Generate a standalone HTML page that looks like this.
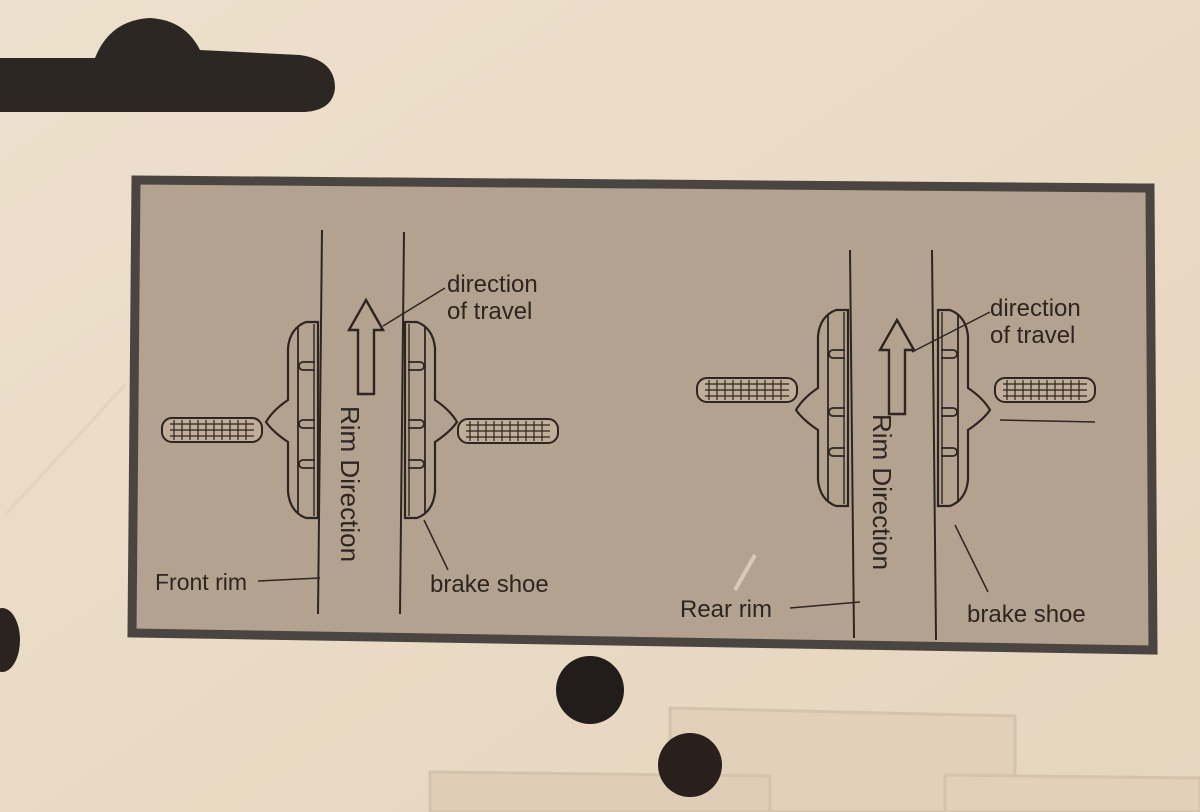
<!DOCTYPE html>
<html><head><style>
body{margin:0;width:1200px;height:812px;overflow:hidden;background:#eadcc7;}
svg{display:block}
text{font-family:"Liberation Sans",sans-serif;fill:#2e2520;}
</style></head><body>
<svg width="1200" height="812" viewBox="0 0 1200 812">
<defs>
<linearGradient id="bg" x1="0" y1="0" x2="1" y2="1">
<stop offset="0" stop-color="#ede0cc"/><stop offset="1" stop-color="#e6d5bf"/>
</linearGradient>
<g id="shoeL">
<path d="M0,0 L0,196 L-12,196 Q-28,190 -30,170 L-30,120 Q-45,110 -52,100 Q-45,88 -30,78 L-30,26 Q-28,6 -12,0 Z" fill="none" stroke="#2e2520" stroke-width="2.2"/>
<line x1="-20" y1="4" x2="-20" y2="192" stroke="#2e2520" stroke-width="1.8"/>
<path d="M-3,40 h-12 a4,4 0 0 0 0,8 h12 M-3,98 h-12 a4,4 0 0 0 0,8 h12 M-3,138 h-12 a4,4 0 0 0 0,8 h12" fill="none" stroke="#2e2520" stroke-width="1.8"/>
<line x1="-4" y1="2" x2="-4" y2="194" stroke="#2e2520" stroke-width="1.4"/>
</g>
<g id="bolt">
<rect x="0" y="0" width="100" height="24" rx="10" fill="#c0ae9a" stroke="#2e2520" stroke-width="2"/>
<path d="M8,6 h84 M8,12 h84 M8,18 h84" stroke="#2e2520" stroke-width="1.2"/>
<path d="M12,2v20M20,2v20M28,2v20M36,2v20M44,2v20M52,2v20M60,2v20M68,2v20M76,2v20M84,2v20" stroke="#2e2520" stroke-width="1.2"/>
</g>
<g id="arrow">
<path d="M0,0 L17,30 L8,30 L8,94 L-8,94 L-8,30 L-17,30 Z" fill="none" stroke="#2e2520" stroke-width="2.4"/>
</g>
</defs>
<rect width="1200" height="812" fill="url(#bg)"/>
<path d="M0,58 L95,58 Q110,20 150,18 Q185,20 200,50 L300,55 Q335,60 335,88 Q333,110 305,112 L0,112 Z" fill="#2d2723"/>
<!-- lower faint boxes -->
<path d="M670,708 L1015,716 L1015,812 L670,812 Z" fill="#e2d0bb" stroke="#d5c3ad" stroke-width="3"/>
<path d="M430,772 L770,776 L770,812 L430,812 Z" fill="#e0cdb7" stroke="#d5c3ad" stroke-width="3"/>
<path d="M945,775 L1200,778 L1200,812 L945,812 Z" fill="#e2d0bb" stroke="#d5c3ad" stroke-width="3"/>
<!-- holes -->
<circle cx="590" cy="690" r="34" fill="#221c1a"/>
<circle cx="690" cy="765" r="32" fill="#2a201b"/>
<ellipse cx="2" cy="640" rx="18" ry="32" fill="#2a2320"/>
<!-- panel -->
<path d="M136,180 L1150,188 L1153,650 L132,633 Z" fill="#b3a290" stroke="#4b4541" stroke-width="9"/>
<!-- LEFT -->
<line x1="322" y1="230" x2="318" y2="614" stroke="#2e2520" stroke-width="2"/>
<line x1="404" y1="232" x2="400" y2="614" stroke="#2e2520" stroke-width="2"/>
<use href="#bolt" x="162" y="418"/>
<use href="#shoeL" x="318" y="322"/>
<g transform="translate(405,322) scale(-1,1)"><use href="#shoeL"/></g>
<use href="#bolt" x="458" y="419"/>
<use href="#arrow" x="366" y="300"/>
<text transform="translate(341,406) rotate(90)" font-size="26">Rim Direction</text>
<text x="447" y="292" font-size="24">direction</text>
<text x="447" y="319" font-size="24">of travel</text>
<line x1="445" y1="288" x2="383" y2="326" stroke="#2e2520" stroke-width="1.5"/>
<text x="155" y="590" font-size="23">Front rim</text>
<line x1="258" y1="581" x2="320" y2="578" stroke="#2e2520" stroke-width="1.5"/>
<text x="430" y="592" font-size="24">brake shoe</text>
<line x1="448" y1="570" x2="424" y2="520" stroke="#2e2520" stroke-width="1.5"/>
<!-- RIGHT -->
<line x1="850" y1="250" x2="854" y2="638" stroke="#2e2520" stroke-width="2"/>
<line x1="932" y1="250" x2="936" y2="640" stroke="#2e2520" stroke-width="2"/>
<use href="#bolt" x="697" y="378"/>
<use href="#shoeL" x="848" y="310"/>
<g transform="translate(938,310) scale(-1,1)"><use href="#shoeL"/></g>
<use href="#bolt" x="995" y="378"/>
<line x1="1000" y1="420" x2="1095" y2="422" stroke="#2e2520" stroke-width="1.5"/>
<use href="#arrow" x="897" y="320"/>
<text transform="translate(873,414) rotate(90)" font-size="26">Rim Direction</text>
<text x="990" y="316" font-size="24">direction</text>
<text x="990" y="343" font-size="24">of travel</text>
<line x1="990" y1="312" x2="912" y2="352" stroke="#2e2520" stroke-width="1.5"/>
<text x="680" y="617" font-size="24">Rear rim</text>
<line x1="790" y1="608" x2="860" y2="602" stroke="#2e2520" stroke-width="1.5"/>
<text x="967" y="622" font-size="24">brake shoe</text>
<line x1="988" y1="592" x2="955" y2="525" stroke="#2e2520" stroke-width="1.5"/>
<path d="M5,515 L125,385" stroke="#e3d4bf" stroke-width="3"/>
<path d="M735,590 L755,555" stroke="#d8cab8" stroke-width="4"/>
</svg>
</body></html>
